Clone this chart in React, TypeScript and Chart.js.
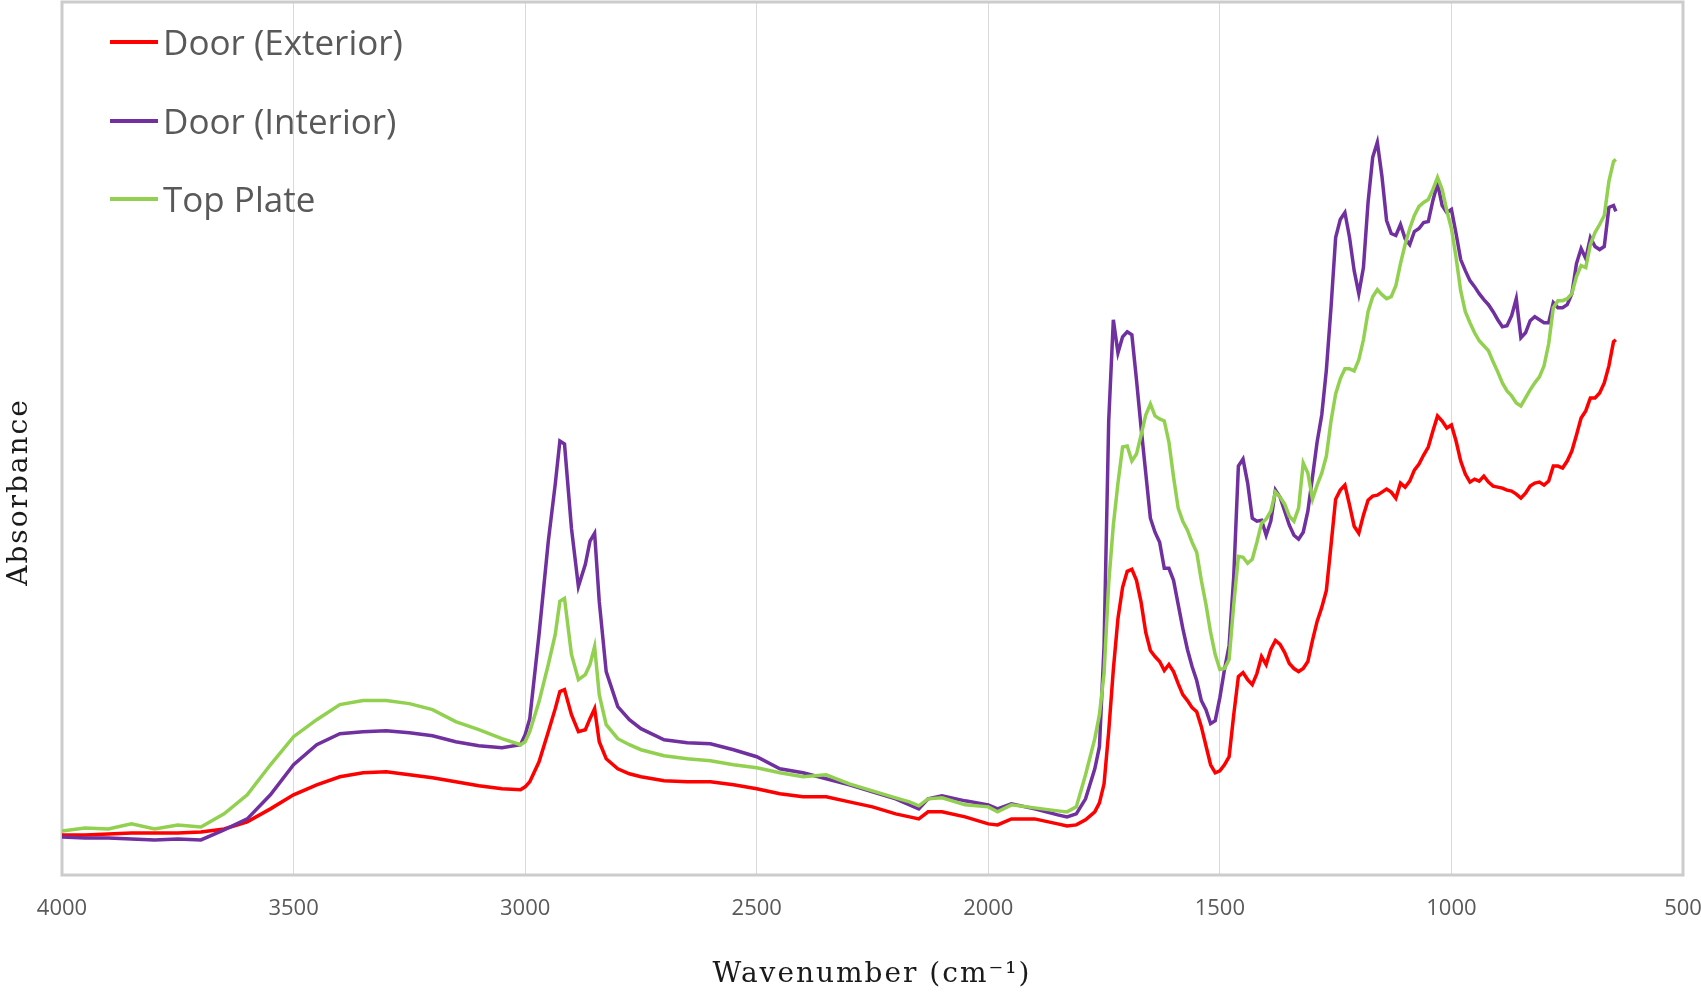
import Chart, { ChartConfiguration, Plugin } from 'chart.js/auto';
import React, { useEffect, useRef } from 'react';

// FTIR spectra, wavenumber in cm-1 (x) and absorbance (y)
const wavenumbers: number[] = [
  4000, 3950, 3900, 3850, 3800, 3750, 3700,
  3650, 3600, 3550, 3500, 3450, 3400, 3350, 3300, 3250, 3200, 3150, 3100, 3050,
  3010, 3000, 2990, 2970, 2950, 2935, 2925, 2915, 2900, 2885, 2870, 2860, 2850, 2840, 2825, 2800, 2775, 2750,
  2700, 2650, 2600, 2550, 2500, 2450, 2400, 2350, 2300, 2250, 2200,
  2170, 2150, 2130, 2100, 2050, 2000, 1980, 1950, 1900, 1850, 1830, 1810, 1790, 1770,
  1760, 1750, 1740, 1730, 1720, 1710, 1700, 1690, 1680, 1670,
  1660, 1650, 1640, 1630, 1620, 1610, 1600, 1590, 1580, 1570,
  1560, 1550, 1540, 1530, 1520, 1510, 1500, 1490, 1480, 1470,
  1460, 1450, 1440, 1430, 1420, 1410, 1400, 1390, 1380, 1370,
  1360, 1350, 1340, 1330, 1320, 1310, 1300, 1290, 1280, 1270,
  1260, 1250, 1240, 1230, 1220, 1210, 1200, 1190, 1180, 1170,
  1160, 1150, 1140, 1130, 1120, 1110, 1100, 1090, 1080, 1070,
  1060, 1050, 1040, 1030, 1020, 1010, 1000, 990, 980, 970,
  960, 950, 940, 930, 920, 910, 900, 890, 880, 870,
  860, 850, 840, 830, 820, 810, 800, 790, 780, 770,
  760, 750, 740, 730, 720, 710, 700, 690, 680, 670,
  660, 650, 645,
];

const doorExterior: number[] = [
  0.040, 0.040, 0.041, 0.042, 0.042, 0.042, 0.043,
  0.046, 0.053, 0.066, 0.080, 0.090, 0.098, 0.102, 0.103, 0.100, 0.097, 0.093, 0.089, 0.086,
  0.085, 0.088, 0.093, 0.113, 0.143, 0.166, 0.183, 0.185, 0.160, 0.143, 0.145, 0.156, 0.166, 0.133, 0.116, 0.106, 0.101, 0.098,
  0.094, 0.093, 0.093, 0.090, 0.086, 0.081, 0.078, 0.078, 0.073, 0.068, 0.061,
  0.058, 0.056, 0.063, 0.063, 0.058, 0.051, 0.050, 0.056, 0.056, 0.051, 0.049, 0.050, 0.055, 0.063,
  0.072, 0.091, 0.143, 0.205, 0.256, 0.287, 0.303, 0.305, 0.294, 0.272,
  0.242, 0.224, 0.218, 0.213, 0.204, 0.210, 0.203, 0.191, 0.180, 0.174,
  0.167, 0.163, 0.148, 0.129, 0.110, 0.102, 0.104, 0.110, 0.118, 0.160,
  0.198, 0.202, 0.195, 0.190, 0.201, 0.218, 0.210, 0.225, 0.234, 0.230,
  0.222, 0.211, 0.206, 0.203, 0.206, 0.213, 0.234, 0.253, 0.267, 0.284,
  0.329, 0.375, 0.384, 0.389, 0.369, 0.348, 0.341, 0.359, 0.374, 0.378,
  0.379, 0.382, 0.385, 0.382, 0.376, 0.391, 0.387, 0.393, 0.404, 0.410,
  0.419, 0.427, 0.443, 0.458, 0.453, 0.446, 0.449, 0.433, 0.413, 0.400,
  0.392, 0.395, 0.393, 0.398, 0.392, 0.388, 0.387, 0.386, 0.384, 0.383,
  0.380, 0.376, 0.381, 0.388, 0.391, 0.392, 0.389, 0.393, 0.408, 0.408,
  0.406, 0.413, 0.423, 0.439, 0.456, 0.463, 0.476, 0.476, 0.481, 0.491,
  0.508, 0.532, 0.534,
];

const doorInterior: number[] = [
  0.038, 0.037, 0.037, 0.036, 0.035, 0.036, 0.035,
  0.045, 0.056, 0.080, 0.110, 0.130, 0.141, 0.143, 0.144, 0.142, 0.139, 0.133, 0.129, 0.127,
  0.130, 0.140, 0.156, 0.240, 0.333, 0.390, 0.433, 0.430, 0.346, 0.288, 0.310, 0.333, 0.341, 0.273, 0.203, 0.168, 0.155, 0.146,
  0.135, 0.132, 0.131, 0.125, 0.118, 0.106, 0.102, 0.096, 0.090, 0.083, 0.076,
  0.070, 0.066, 0.076, 0.079, 0.074, 0.070, 0.066, 0.071, 0.066, 0.060, 0.058, 0.061, 0.076, 0.106,
  0.128, 0.229, 0.453, 0.554, 0.521, 0.537, 0.542, 0.539, 0.494, 0.446,
  0.401, 0.356, 0.342, 0.332, 0.306, 0.306, 0.294, 0.270, 0.246, 0.225,
  0.208, 0.194, 0.174, 0.165, 0.151, 0.154, 0.177, 0.205, 0.229, 0.298,
  0.408, 0.415, 0.391, 0.356, 0.353, 0.354, 0.339, 0.353, 0.384, 0.377,
  0.363, 0.349, 0.339, 0.335, 0.342, 0.363, 0.397, 0.432, 0.459, 0.504,
  0.566, 0.636, 0.654, 0.661, 0.636, 0.603, 0.580, 0.606, 0.671, 0.716,
  0.731, 0.697, 0.653, 0.640, 0.638, 0.649, 0.635, 0.629, 0.642, 0.645,
  0.651, 0.652, 0.673, 0.690, 0.668, 0.661, 0.664, 0.640, 0.614, 0.603,
  0.593, 0.587, 0.580, 0.574, 0.569, 0.562, 0.554, 0.547, 0.548, 0.558,
  0.575, 0.536, 0.541, 0.553, 0.557, 0.554, 0.551, 0.551, 0.571, 0.566,
  0.566, 0.569, 0.580, 0.610, 0.625, 0.615, 0.636, 0.627, 0.624, 0.627,
  0.666, 0.668, 0.662,
];

const topPlate: number[] = [
  0.044, 0.047, 0.046, 0.051, 0.046, 0.050, 0.048,
  0.061, 0.080, 0.110, 0.138, 0.155, 0.170, 0.174, 0.174, 0.171, 0.165, 0.153, 0.145, 0.136,
  0.130, 0.133, 0.143, 0.173, 0.210, 0.240, 0.273, 0.276, 0.220, 0.195, 0.200, 0.210, 0.228, 0.180, 0.150, 0.136, 0.130, 0.125,
  0.119, 0.116, 0.114, 0.110, 0.107, 0.102, 0.098, 0.100, 0.091, 0.084, 0.077,
  0.073, 0.069, 0.076, 0.077, 0.070, 0.068, 0.063, 0.070, 0.067, 0.064, 0.063, 0.068, 0.100, 0.136,
  0.160, 0.201, 0.291, 0.349, 0.391, 0.427, 0.428, 0.413, 0.420, 0.439,
  0.459, 0.470, 0.458, 0.455, 0.453, 0.432, 0.397, 0.366, 0.353, 0.344,
  0.332, 0.322, 0.294, 0.270, 0.242, 0.220, 0.205, 0.206, 0.215, 0.270,
  0.318, 0.317, 0.311, 0.315, 0.332, 0.351, 0.355, 0.363, 0.382, 0.377,
  0.370, 0.358, 0.353, 0.366, 0.411, 0.401, 0.375, 0.389, 0.401, 0.418,
  0.453, 0.480, 0.495, 0.505, 0.505, 0.503, 0.514, 0.534, 0.562, 0.577,
  0.584, 0.579, 0.575, 0.577, 0.588, 0.610, 0.629, 0.645, 0.658, 0.667,
  0.671, 0.674, 0.684, 0.696, 0.684, 0.663, 0.645, 0.616, 0.583, 0.562,
  0.551, 0.541, 0.533, 0.528, 0.523, 0.512, 0.502, 0.491, 0.483, 0.478,
  0.471, 0.468, 0.476, 0.484, 0.491, 0.497, 0.508, 0.530, 0.566, 0.573,
  0.573, 0.575, 0.580, 0.597, 0.608, 0.606, 0.629, 0.641, 0.649, 0.658,
  0.692, 0.712, 0.714,
];

const seriesNames = ['Door (Exterior)', 'Door (Interior)', 'Top Plate'];
const seriesColors = ['#FF0000', '#7030A0', '#92D050'];

const toPoints = (values: number[]) =>
  wavenumbers.map((w, i) => ({ x: w, y: values[i] }));

// border around the plot area
const frame: Plugin = {
  id: 'frame',
  beforeDatasetsDraw(chart) {
    const { ctx, chartArea } = chart;
    ctx.save();
    ctx.strokeStyle = '#cccccc';
    ctx.lineWidth = 3;
    ctx.strokeRect(chartArea.left, chartArea.top, chartArea.right - chartArea.left, chartArea.bottom - chartArea.top);
    ctx.restore();
  },
};

// legend inside the plot + axis titles
const overlay: Plugin = {
  id: 'overlay',
  afterDraw(chart) {
    const { ctx } = chart;
    ctx.save();
    const rows = [42, 121, 199];
    seriesNames.forEach((name, i) => {
      ctx.strokeStyle = seriesColors[i];
      ctx.lineWidth = 4;
      ctx.beginPath();
      ctx.moveTo(110, rows[i]);
      ctx.lineTo(158, rows[i]);
      ctx.stroke();
      ctx.fillStyle = '#595959';
      ctx.font = '35px "Open Sans"';
      ctx.textAlign = 'left';
      ctx.textBaseline = 'alphabetic';
      ctx.fillText(name, 163, rows[i] + 13);
    });

    (ctx as any).letterSpacing = '2px';
    ctx.fillStyle = '#1a1a1a';
    ctx.font = '28px "DejaVu Serif"';
    ctx.textAlign = 'center';
    ctx.textBaseline = 'alphabetic';
    ctx.fillText('Wavenumber (cm\u207B\u00B9)', 872, 982);

    ctx.translate(27, 492);
    ctx.rotate(-Math.PI / 2);
    ctx.fillText('Absorbance', 0, 0);
    (ctx as any).letterSpacing = '0px';
    ctx.restore();
  },
};

const App: React.FC = () => {
  const chartRef = useRef<HTMLCanvasElement>(null);

  useEffect(() => {
    if (!chartRef.current) return;
    const ctx = chartRef.current.getContext('2d');
    if (!ctx) return;

    const datasets = [doorExterior, doorInterior, topPlate].map((values, i) => ({
      label: seriesNames[i],
      data: toPoints(values),
      borderColor: seriesColors[i],
      backgroundColor: seriesColors[i],
      borderWidth: 3.5,
      pointRadius: 0,
      tension: 0,
      order: 2 - i, // Top Plate drawn last
    }));

    const config: ChartConfiguration<'line'> = {
      type: 'line',
      data: { datasets },
      options: {
        animation: false,
        responsive: true,
        maintainAspectRatio: false,
        layout: { padding: { left: 62, right: 18, top: 2, bottom: 52 } },
        plugins: {
          legend: { display: false },
          tooltip: { enabled: false },
        },
        scales: {
          x: {
            type: 'linear',
            reverse: true,
            min: 500,
            max: 4000,
            grid: { color: '#d9d9d9', lineWidth: 1, drawTicks: false },
            border: { display: false },
            ticks: {
              stepSize: 500,
              autoSkip: false,
              maxRotation: 0,
              padding: 0,
              color: '#595959',
              // tall line box pushes the labels down without widening the side padding
              font: { family: 'Open Sans', size: 22, lineHeight: 3.09 },
              callback: (value) => String(value),
            },
            afterFit: (scale) => {
              // layout padding already leaves room for the end labels
              scale.paddingLeft = 0;
              scale.paddingRight = 0;
            },
          },
          y: {
            display: false,
            min: 0,
            max: 0.871,
          },
        },
      },
      plugins: [frame, overlay],
    };

    const chart = new Chart(ctx, config);
    return () => {
      chart.destroy();
    };
  }, []);

  return (
    <div style={{ position: 'absolute', left: 0, top: 0, width: 1701, height: 995, background: '#fff' }}>
      <canvas ref={chartRef} />
    </div>
  );
};

export default App;
